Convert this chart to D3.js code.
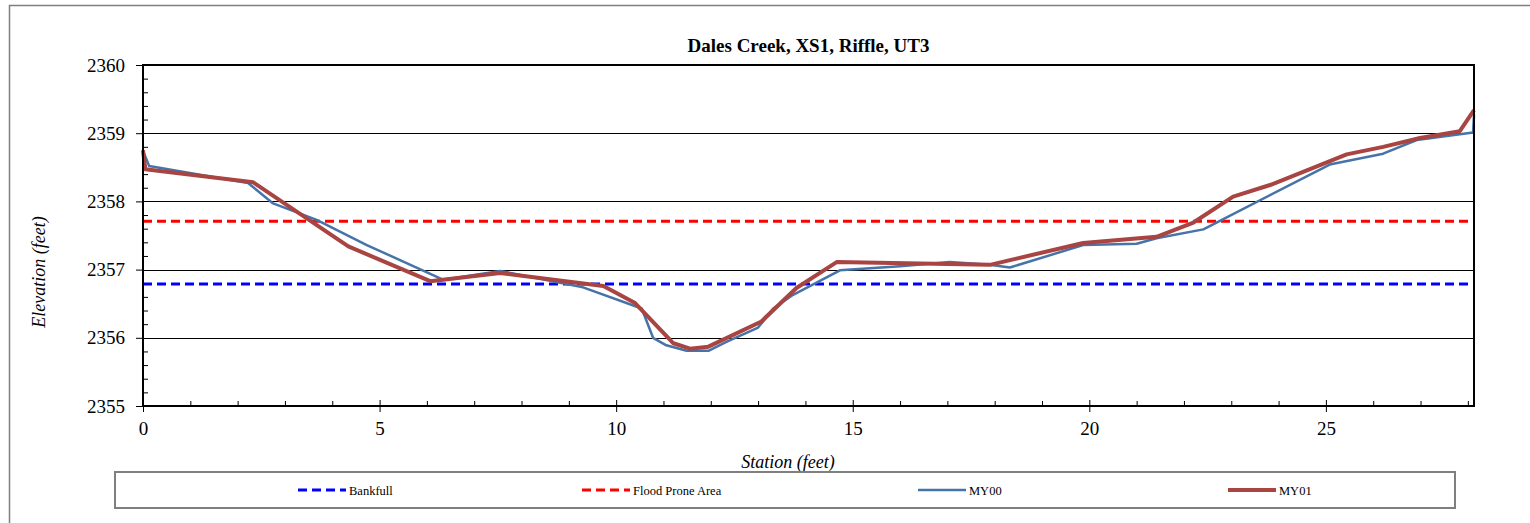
<!DOCTYPE html>
<html>
<head>
<meta charset="utf-8">
<script src="https://cdn.jsdelivr.net/npm/d3@7/dist/d3.min.js"></script>
<style>
  html, body { margin: 0; padding: 0; background: #fff; }
  svg { display: block; }
  svg text { font-family: "Liberation Serif", "Times New Roman", serif; fill: #000; }
</style>
</head>
<body>
<svg id="chart" width="1530" height="523"></svg>
<script>
// Cross-section survey: station (ft) vs. elevation (ft)
const titleText = "Dales Creek, XS1, Riffle, UT3";
const xTitle = "Station (feet)";
const yTitle = "Elevation (feet)";

const my00Station = [0, 0.13, 2.22, 2.75, 3.67, 4.73, 6.35, 7.55, 9.30, 10.54, 10.78, 11.06, 11.49, 11.95,
  12.33, 13.00, 13.32, 13.74, 14.73, 16.0, 17.05, 17.90, 18.32, 19.87, 21.0, 21.42, 22.41, 25.08, 26.21,
  26.92, 28.11, 28.13];
const my00Elev = [2358.74, 2358.52, 2358.27, 2357.97, 2357.73, 2357.36, 2356.85, 2356.98, 2356.74, 2356.43,
  2356.00, 2355.89, 2355.81, 2355.81, 2355.94, 2356.15, 2356.43, 2356.63, 2356.99, 2357.05, 2357.11, 2357.07,
  2357.03, 2357.36, 2357.38, 2357.46, 2357.59, 2358.54, 2358.70, 2358.90, 2359.01, 2359.27];

const my01Station = [0, 0.05, 2.33, 4.34, 6.07, 7.55, 9.73, 10.40, 11.21, 11.56, 11.95, 13.07, 13.81, 14.66,
  17.9, 19.87, 21.42, 22.2, 23.04, 23.82, 25.44, 26.21, 26.99, 27.83, 28.13];
const my01Elev = [2358.75, 2358.47, 2358.28, 2357.34, 2356.83, 2356.95, 2356.76, 2356.51, 2355.92, 2355.84,
  2355.87, 2356.24, 2356.73, 2357.11, 2357.07, 2357.39, 2357.48, 2357.69, 2358.07, 2358.24, 2358.69, 2358.80,
  2358.93, 2359.03, 2359.34];

const bankfullElev = 2356.79;
const floodProneElev = 2357.71;

const xDomain = [0, 28.13];
const yDomain = [2355, 2360];
const xMajorTicks = [0, 5, 10, 15, 20, 25];
const yMajorTicks = [2355, 2356, 2357, 2358, 2359, 2360];

const legendLabels = ["Bankfull", "Flood Prone Area", "MY00", "MY01"];

// layout
const plot = { left: 143, right: 1474, top: 65, bottom: 406 };
const colors = { bankfull: "#0000FF", flood: "#FF0000", my00: "#4673A8", my01: "#A84441" };
const serif = "Liberation Serif, Times New Roman, serif";

const svg = d3.select("#chart").attr("font-family", serif);
svg.append("rect").attr("width", 1530).attr("height", 523).attr("fill", "#fff");
// chart area frame
svg.append("rect").attr("x", 9.5).attr("y", 5.5).attr("width", 1530).attr("height", 530)
  .attr("fill", "none").attr("stroke", "#7f7f7f").attr("stroke-width", 1.5);

const x = d3.scaleLinear().domain(xDomain).range([plot.left, plot.right]);
const y = d3.scaleLinear().domain(yDomain).range([plot.bottom, plot.top]);

// gridlines
svg.append("g").selectAll("line").data(yMajorTicks.slice(1, -1)).join("line")
  .attr("x1", plot.left).attr("x2", plot.right)
  .attr("y1", d => Math.round(y(d)) + 0.5).attr("y2", d => Math.round(y(d)) + 0.5)
  .attr("stroke", "#000").attr("stroke-width", 1);

// minor ticks (inside)
const xMinor = d3.range(1, 29).filter(v => v % 5 !== 0);
const yMinor = d3.range(0, 25).map(i => 2355 + i * 0.2).filter(v => Math.abs(v - Math.round(v)) > 1e-6);

svg.append("g").attr("transform", `translate(0,${plot.bottom})`)
  .call(d3.axisBottom(x).tickValues(xMinor).tickSize(-5).tickFormat(""))
  .call(g => g.select(".domain").remove())
  .call(g => g.selectAll("line").attr("stroke", "#000"));

svg.append("g").attr("transform", `translate(${plot.left},0)`)
  .call(d3.axisLeft(y).tickValues(yMinor).tickSize(-5).tickFormat(""))
  .call(g => g.select(".domain").remove())
  .call(g => g.selectAll("line").attr("stroke", "#000"));

// major axes with labels
const xAxis = svg.append("g").attr("transform", `translate(0,${plot.bottom})`)
  .call(d3.axisBottom(x).tickValues(xMajorTicks).tickSize(6).tickPadding(10).tickFormat(d3.format("d")))
  .call(g => g.select(".domain").remove())
  .attr("font-family", serif).attr("font-size", 19);
xAxis.selectAll(".tick line").attr("y1", -6).attr("stroke", "#000");
xAxis.selectAll("text").attr("fill", "#000");

const yAxis = svg.append("g").attr("transform", `translate(${plot.left},0)`)
  .call(d3.axisLeft(y).tickValues(yMajorTicks).tickSize(7).tickPadding(11).tickFormat(d3.format("d")))
  .call(g => g.select(".domain").remove())
  .attr("font-family", serif).attr("font-size", 19);
yAxis.selectAll(".tick line").attr("stroke", "#000");
yAxis.selectAll("text").attr("fill", "#000");

// reference elevations
const refLine = (elev, color) => svg.append("line")
  .attr("x1", plot.left).attr("x2", plot.right)
  .attr("y1", y(elev)).attr("y2", y(elev))
  .attr("stroke", color).attr("stroke-width", 3).attr("stroke-dasharray", "9,5");
refLine(bankfullElev, colors.bankfull);
refLine(floodProneElev, colors.flood);

// survey lines
const line = d3.line().x(d => x(d[0])).y(d => y(d[1]));
const my00 = my00Station.map((s, i) => [s, my00Elev[i]]);
const my01 = my01Station.map((s, i) => [s, my01Elev[i]]);

svg.append("path").datum(my00).attr("d", line).attr("fill", "none")
  .attr("stroke", colors.my00).attr("stroke-width", 2.5).attr("stroke-linejoin", "round");
svg.append("path").datum(my01).attr("d", line).attr("fill", "none")
  .attr("stroke", colors.my01).attr("stroke-width", 4).attr("stroke-linejoin", "round");

// plot frame
svg.append("rect").attr("x", plot.left).attr("y", plot.top)
  .attr("width", plot.right - plot.left).attr("height", plot.bottom - plot.top)
  .attr("fill", "none").attr("stroke", "#000").attr("stroke-width", 2);

// titles
svg.append("text").attr("x", (plot.left + plot.right) / 2).attr("y", 52)
  .attr("text-anchor", "middle").attr("font-weight", "bold").attr("font-size", 19)
  .attr("font-family", serif).text(titleText);
svg.append("text").attr("x", 788).attr("y", 468)
  .attr("text-anchor", "middle").attr("font-style", "italic").attr("font-size", 18)
  .attr("font-family", serif).text(xTitle);
svg.append("text").attr("transform", "translate(45,272) rotate(-90)")
  .attr("text-anchor", "middle").attr("font-style", "italic").attr("font-size", 18)
  .attr("font-family", serif).text(yTitle);

// legend
svg.append("rect").attr("x", 115).attr("y", 472).attr("width", 1340).attr("height", 36)
  .attr("fill", "#fff").attr("stroke", "#7f7f7f").attr("stroke-width", 2);
const legendX = [298, 582, 918, 1228];
const legendStyle = [
  { color: colors.bankfull, width: 3, dash: "9,5" },
  { color: colors.flood, width: 3, dash: "9,5" },
  { color: colors.my00, width: 2.5, dash: null },
  { color: colors.my01, width: 4, dash: null }
];
const lg = svg.append("g").selectAll("g").data(legendLabels).join("g")
  .attr("transform", (d, i) => `translate(${legendX[i]},490)`);
lg.append("line").attr("x1", 0).attr("x2", 48).attr("y1", 0).attr("y2", 0)
  .attr("stroke", (d, i) => legendStyle[i].color)
  .attr("stroke-width", (d, i) => legendStyle[i].width)
  .attr("stroke-dasharray", (d, i) => legendStyle[i].dash);
lg.append("text").attr("x", 51).attr("y", 4.5).attr("font-size", 12.5)
  .attr("font-family", serif).text(d => d);
</script>
</body>
</html>
